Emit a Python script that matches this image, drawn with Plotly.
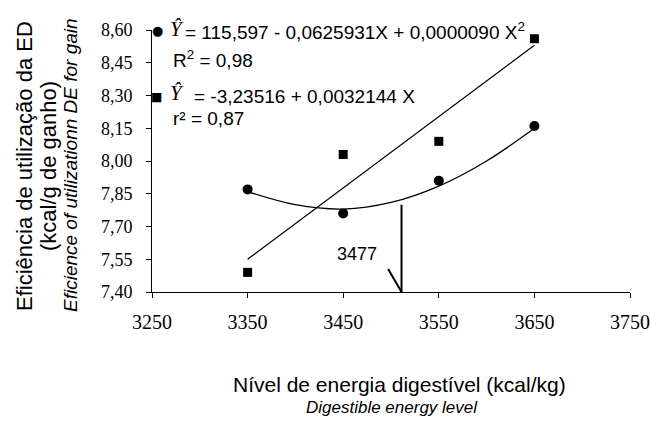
import plotly.graph_objects as go

# ---- data ----
energy_levels = [3350, 3450, 3550, 3650]
eff_circle = [7.87, 7.76, 7.91, 8.16]
eff_square = [7.49, 8.03, 8.09, 8.56]

quad_fit_x = [3350, 3400, 3450, 3500, 3550, 3600, 3650]
quad_fit_y = [7.86, 7.80, 7.78, 7.81, 7.885, 8.00, 8.15]

lin_fit_x = [3350, 3650]
lin_fit_y = [7.55, 8.53]

optimum_label = "3477"
optimum_x = 3511
optimum_top = 7.80
barb_start = (3497, 7.505)
label_pos = (3464, 7.575)

x_ticks = [3250, 3350, 3450, 3550, 3650, 3750]
x_tick_labels = ["3250", "3350", "3450", "3550", "3650", "3750"]
y_ticks = [7.40, 7.55, 7.70, 7.85, 8.00, 8.15, 8.30, 8.45, 8.60]
y_tick_labels = ["7,40", "7,55", "7,70", "7,85", "8,00", "8,15", "8,30", "8,45", "8,60"]

# ---- layout geometry (page margin removed, so figure px == screen px) ----
W, H = 651, 423
L, T = 152, 30
PW, PH = 478, 262
R = W - L - PW
B = H - T - PH

def px(x):
    return (x - L) / PW

def py(y):
    return (T + PH - y) / PH

SERIF = "Liberation Serif, Times New Roman, serif"
SANS = "Liberation Sans, Arial, sans-serif"
BLACK = "black"

fig = go.Figure()

fig.add_trace(go.Scatter(x=quad_fit_x, y=quad_fit_y, mode="lines",
                         line=dict(color=BLACK, width=1.3, shape="spline"),
                         showlegend=False, hoverinfo="skip"))
fig.add_trace(go.Scatter(x=lin_fit_x, y=lin_fit_y, mode="lines",
                         line=dict(color=BLACK, width=1.3),
                         showlegend=False, hoverinfo="skip"))
fig.add_trace(go.Scatter(x=energy_levels, y=eff_circle, mode="markers",
                         marker=dict(symbol="circle", size=10, color=BLACK),
                         showlegend=False))
fig.add_trace(go.Scatter(x=energy_levels, y=eff_square, mode="markers",
                         marker=dict(symbol="square", size=9, color=BLACK),
                         showlegend=False))

# optimum marker
fig.add_shape(type="line", x0=optimum_x, x1=optimum_x, y0=7.40, y1=optimum_top,
              line=dict(color=BLACK, width=2))
fig.add_shape(type="line", x0=barb_start[0], y0=barb_start[1], x1=optimum_x, y1=7.40,
              line=dict(color=BLACK, width=2))


def ann(x, y, text, size, family=SANS, xanchor="center", angle=0, xref="paper", yref="paper"):
    return dict(x=x, y=y, xref=xref, yref=yref, text=text, showarrow=False,
                xanchor=xanchor, yanchor="middle", textangle=angle,
                font=dict(family=family, size=size, color=BLACK))


EQ = 19
annotations = [
    ann(label_pos[0], label_pos[1], optimum_label, 18, xref="x", yref="y"),
    # equation 1 (circles)
    ann(px(157), py(31), "●", 13, family="DejaVu Sans"),
    ann(px(177), py(29), "<i>Ŷ</i>", 21, family=SERIF),
    ann(px(183), py(31), "= 115,597 - 0,0625931X + 0,0000090 X<sup>2</sup>", EQ, xanchor="left"),
    ann(px(171), py(59), "R<sup>2</sup> = 0,98", EQ, xanchor="left"),
    # equation 2 (squares)
    ann(px(156), py(97), "■", 12, family="DejaVu Sans"),
    ann(px(177), py(93), "<i>Ŷ</i>", 21, family=SERIF),
    ann(px(192), py(96), "= -3,23516 + 0,0032144 X", EQ, xanchor="left"),
    ann(px(171), py(119), "r² = 0,87", EQ, xanchor="left"),
    # y titles
    ann(px(24), py(166), "Eficiência de utilização da ED", 22, angle=-90),
    ann(px(48), py(166), "(kcal/g de ganho)", 22, angle=-90),
    ann(px(70), py(165), "<i>Eficience of utilizationn DE for gain</i>", 19, angle=-90),
    # x titles
    ann(px(399), py(384), "Nível de energia digestível (kcal/kg)", 21),
    ann(px(392), py(407), "<i>Digestible energy level</i>", 17),
]

fig.update_layout(
    width=W, height=H,
    margin=dict(l=L, r=R, t=T, b=B, pad=0, autoexpand=False),
    paper_bgcolor="white", plot_bgcolor="white",
    annotations=annotations,
    showlegend=False,
    xaxis=dict(range=[3250, 3750], tickvals=x_ticks, ticktext=x_tick_labels,
               showline=True, linecolor=BLACK, linewidth=1,
               ticks="outside", ticklen=5, tickcolor=BLACK,
               showgrid=False, zeroline=False, automargin=False,
               tickfont=dict(family=SERIF, size=20, color=BLACK),
               ticklabelstandoff=7),
    yaxis=dict(range=[7.40, 8.60], tickvals=y_ticks, ticktext=y_tick_labels,
               showline=True, linecolor=BLACK, linewidth=1,
               ticks="outside", ticklen=5, tickcolor=BLACK,
               showgrid=False, zeroline=False, automargin=False,
               tickfont=dict(family=SERIF, size=18, color=BLACK),
               ticklabelstandoff=10),
)

fig.write_html("out.html",
               config={"displayModeBar": False},
               post_script="document.body.style.margin='0';document.body.style.overflow='hidden';")
